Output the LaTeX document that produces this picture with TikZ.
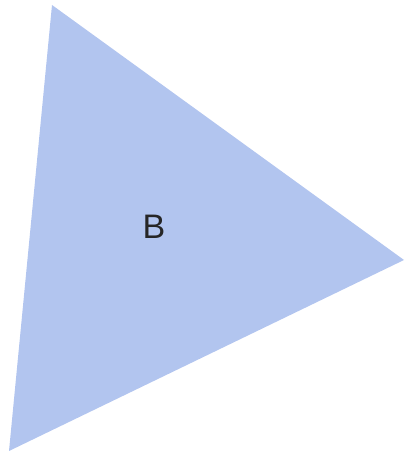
\documentclass[tikz,border=0pt]{standalone}
\usepackage{fontspec}
\setmainfont{Liberation Sans}
\definecolor{triblue}{RGB}{178,197,239}
\begin{document}
\begin{tikzpicture}[x=1pt,y=1pt]
\useasboundingbox (0,0) rectangle (203,227);
\coordinate (top) at (26,224.5);
\coordinate (right) at (202,97);
\coordinate (bl) at (4.5,1.5);
\fill[triblue] (top) -- (right) -- (bl) -- cycle;
\node[font=\fontsize{17}{19}\selectfont, text=black!85] (lb) at (77,113.5) {B};
\end{tikzpicture}
\end{document}
